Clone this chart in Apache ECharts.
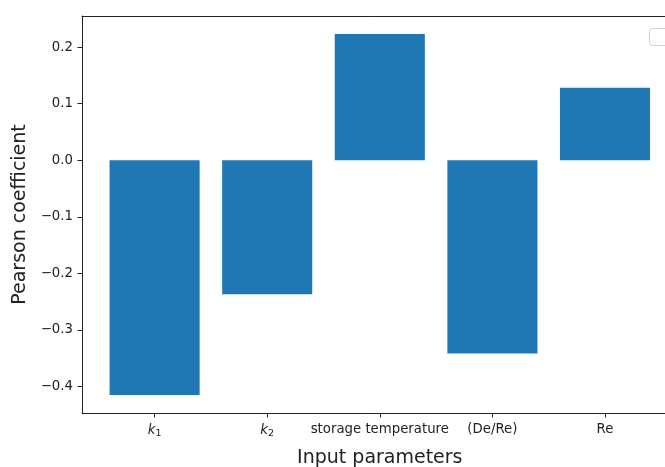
<!DOCTYPE html>
<html>
<head>
<meta charset="utf-8">
<script src="https://cdn.jsdelivr.net/npm/echarts@6/dist/echarts.min.js"></script>
<style>
html,body{margin:0;padding:0;background:#fff;}
#chart{width:665px;height:467px;}
</style>
</head>
<body>
<div id="chart"></div>
<script>
const categories = ['k1', 'k2', 'storage temperature', '(De/Re)', 'Re'];
const categoryLabels = ['{i|k}{s|1}', '{i|k}{s|2}', 'storage temperature', '(De/Re)', 'Re'];
const pearson = [-0.415, -0.237, 0.223, -0.342, 0.128];
const yTicks = [-0.4, -0.3, -0.2, -0.1, 0.0, 0.1, 0.2];
const yMin = -0.447, yMax = 0.255;

const font = 'DejaVu Sans';
const frameLine = {show: true, onZero: false, lineStyle: {color: '#222', width: 1}};
const chart = echarts.init(document.getElementById('chart'));
chart.setOption({
  animation: false,
  backgroundColor: '#fff',
  grid: [
    {left: 82, right: -12, top: 16, bottom: 54, outerBoundsMode: 'none', containLabel: false},
    {left: 98.3, right: 3.7, top: 16, bottom: 54, outerBoundsMode: 'none', containLabel: false}
  ],
  xAxis: [
    {gridIndex: 0, type: 'value', min: 0, max: 1, position: 'bottom',
     axisLine: frameLine, axisTick: {show: false}, axisLabel: {show: false}, splitLine: {show: false}},
    {gridIndex: 0, type: 'value', min: 0, max: 1, position: 'top',
     axisLine: frameLine, axisTick: {show: false}, axisLabel: {show: false}, splitLine: {show: false}},
    {gridIndex: 1, type: 'category', data: categories, boundaryGap: true, position: 'bottom',
     axisLine: {show: false, onZero: false},
     axisTick: {show: true, alignWithLabel: true, length: 4.5, lineStyle: {color: '#222', width: 1}},
     axisLabel: {margin: 10, color: '#222', fontFamily: font, fontSize: 13.3, interval: 0,
       formatter: (v, i) => categoryLabels[i],
       rich: {i: {fontStyle: 'italic', fontFamily: font, fontSize: 13.3, color: '#222'},
              s: {fontFamily: font, fontSize: 9.5, color: '#222', padding: [6, 0, 0, 0]}}},
     name: 'Input parameters', nameLocation: 'middle', nameGap: 36,
     nameTextStyle: {fontFamily: font, fontSize: 19, color: '#222'}
    }
  ],
  yAxis: [
    {gridIndex: 0, type: 'value', min: yMin, max: yMax,
     axisLine: frameLine,
     splitLine: {show: false},
     axisTick: {show: true, length: 4.5, customValues: yTicks, lineStyle: {color: '#222'}},
     axisLabel: {margin: 9, color: '#222', fontFamily: font, fontSize: 13.3, customValues: yTicks,
       formatter: v => v.toFixed(1).replace('-', '\u2212')},
     name: 'Pearson coefficient', nameLocation: 'middle', nameGap: 47,
     nameTextStyle: {fontFamily: font, fontSize: 19, color: '#222'}
    },
    {gridIndex: 1, type: 'value', min: yMin, max: yMax, show: false, splitLine: {show: false}}
  ],
  series: [{
    type: 'bar', xAxisIndex: 2, yAxisIndex: 1, data: pearson, barWidth: '80%',
    itemStyle: {color: '#1f77b4'}
  }],
  graphic: [{
    type: 'rect', shape: {x: 649.5, y: 28.5, width: 40, height: 17, r: 3},
    style: {fill: '#fff', stroke: '#d0d0d0', lineWidth: 1}
  }]
});
</script>
</body>
</html>
